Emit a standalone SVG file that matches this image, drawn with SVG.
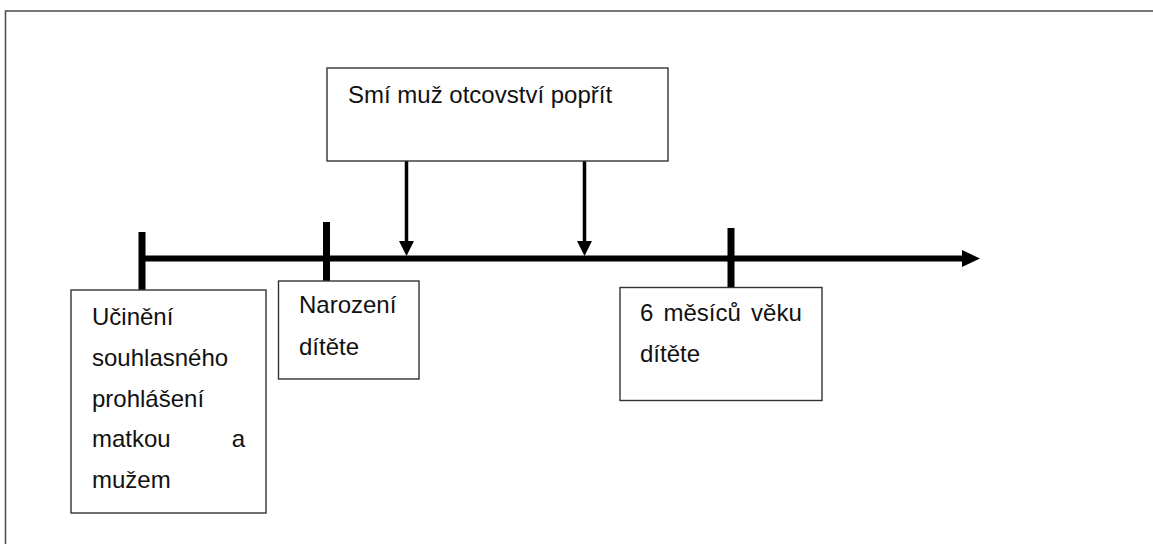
<svg xmlns="http://www.w3.org/2000/svg" width="1153" height="544" viewBox="0 0 1153 544">
<style>
.box{fill:#fff;stroke:#333;stroke-width:1.4}
.t{font-family:"Liberation Sans",Arial,sans-serif;font-size:24px;fill:#111}
.tick{stroke:#000;stroke-width:7}
.axis{stroke:#000;stroke-width:6}
.arr{stroke:#000;stroke-width:3.5}
</style>
<rect x="5.5" y="11" width="1160" height="560" fill="none" stroke="#555" stroke-width="1.6"/>
<g id="connectors">
<line class="axis" x1="142" y1="258.5" x2="964" y2="258.5"/>
<polygon points="962,250 980,258.5 962,267" fill="#000"/>
<line class="tick" x1="142" y1="232" x2="142" y2="290"/>
<line class="tick" x1="326.5" y1="222" x2="326.5" y2="281"/>
<line class="tick" x1="731" y1="228" x2="731" y2="288"/>
<line class="arr" x1="406.5" y1="161" x2="406.5" y2="242"/>
<polygon points="399,241 414,241 406.5,256" fill="#000"/>
<line class="arr" x1="584.5" y1="161" x2="584.5" y2="242"/>
<polygon points="577,241 592,241 584.5,256" fill="#000"/>
</g>
<g id="top">
<rect class="box" x="327" y="68" width="341" height="93"/>
<text class="t" x="348" y="103">Smí muž otcovství popřít</text>
</g>
<g id="n1">
<rect class="box" x="71" y="290" width="195" height="223"/>
<text class="t" x="92" y="325">Učinění</text>
<text class="t" x="92" y="366">souhlasného</text>
<text class="t" x="92" y="407">prohlášení</text>
<text class="t" x="92" y="447">matkou</text>
<text class="t" x="245" y="447" text-anchor="end">a</text>
<text class="t" x="92" y="488">mužem</text>
</g>
<g id="n2">
<rect class="box" x="278.5" y="281" width="140.5" height="98"/>
<text class="t" x="299" y="313">Narození</text>
<text class="t" x="299" y="355">dítěte</text>
</g>
<g id="n3">
<rect class="box" x="620" y="287.5" width="202" height="113"/>
<text class="t" x="640" y="321" word-spacing="3.5">6 měsíců věku</text>
<text class="t" x="640" y="362">dítěte</text>
</g>
</svg>
